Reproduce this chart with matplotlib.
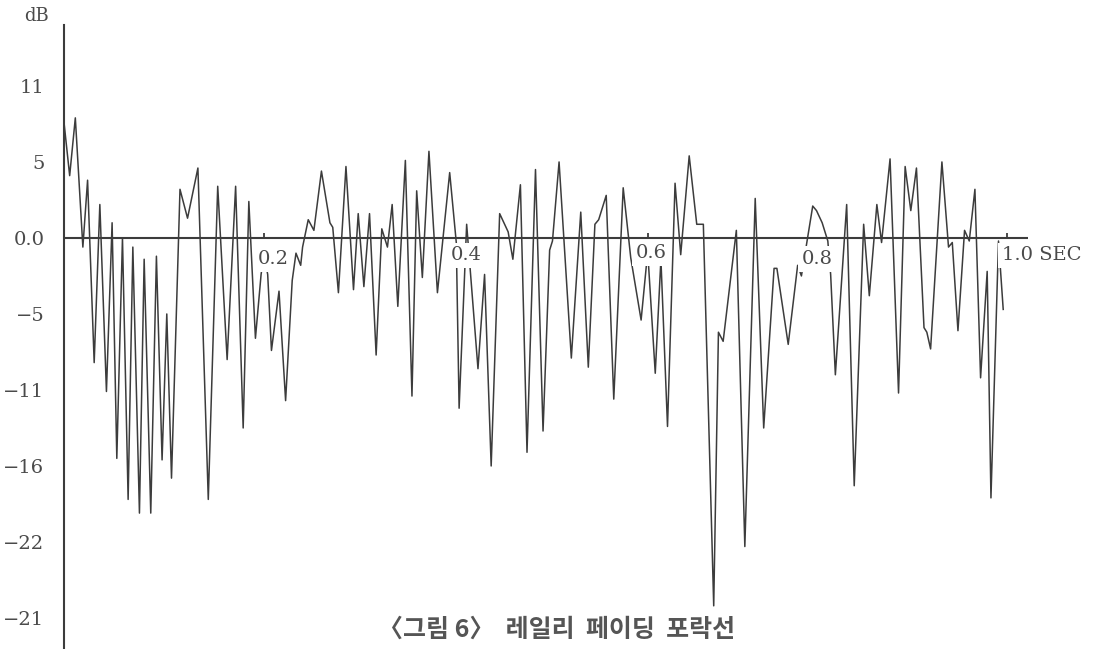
#!/usr/bin/env python3

import matplotlib
matplotlib.use("Agg")
import matplotlib.pyplot as plt

# envelope samples: time [s], level on the dB grid (one grid step = 5 units)
t = [0.000, 0.006, 0.012, 0.020, 0.025, 0.032, 0.038, 0.045, 0.051, 0.056,
     0.062, 0.068, 0.073, 0.080, 0.085, 0.092, 0.098, 0.104, 0.109, 0.114,
     0.123, 0.131, 0.142, 0.153, 0.163, 0.173, 0.182, 0.190, 0.196, 0.203,
     0.209, 0.212, 0.216, 0.220, 0.228, 0.235, 0.242, 0.246, 0.251, 0.253,
     0.259, 0.265, 0.273, 0.282, 0.285, 0.291, 0.299, 0.307, 0.312, 0.318,
     0.324, 0.331, 0.337, 0.343, 0.348, 0.354, 0.362, 0.369, 0.374, 0.380,
     0.387, 0.396, 0.409, 0.416, 0.419, 0.427, 0.439, 0.446, 0.453, 0.462,
     0.471, 0.476, 0.484, 0.491, 0.500, 0.508, 0.515, 0.518, 0.525, 0.538,
     0.548, 0.556, 0.563, 0.567, 0.575, 0.583, 0.593, 0.601, 0.612, 0.619,
     0.627, 0.633, 0.640, 0.648, 0.654, 0.663, 0.671, 0.678, 0.689, 0.694,
     0.699, 0.713, 0.722, 0.733, 0.742, 0.753, 0.756, 0.768, 0.778, 0.782,
     0.788, 0.794, 0.798, 0.804, 0.810, 0.813, 0.818, 0.830, 0.838, 0.848,
     0.854, 0.862, 0.867, 0.876, 0.885, 0.892, 0.898, 0.904, 0.912, 0.915,
     0.919, 0.931, 0.938, 0.942, 0.948, 0.955, 0.960, 0.966, 0.972, 0.979,
     0.983, 0.991, 0.996]
level = [7.6, 4.1, 7.9, -0.6, 3.8, -8.2, 2.2, -10.1, 1.0, -14.5,
         0.0, -17.2, -0.6, -18.1, -1.4, -18.1, -1.2, -14.6, -5.0, -15.8,
         3.2, 1.3, 4.6, -17.2, 3.4, -8.0, 3.4, -12.5, 2.4, -6.6,
         -2.4, -1.1, -2.4, -7.4, -3.5, -10.7, -2.8, -1.0, -1.8, -0.6,
         1.2, 0.5, 4.4, 1.0, 0.7, -3.6, 4.7, -3.4, 1.6, -3.2,
         1.6, -7.7, 0.6, -0.6, 2.2, -4.5, 5.1, -10.4, 3.1, -2.6,
         5.7, -3.6, 4.3, -0.3, -11.2, 0.9, -8.6, -2.4, -15.0, 1.6,
         0.4, -1.4, 3.5, -14.1, 4.5, -12.7, -0.8, -0.2, 5.0, -7.9,
         1.7, -8.5, 0.9, 1.2, 2.8, -10.6, 3.3, -1.3, -5.4, -0.9,
         -8.9, -1.4, -12.4, 3.6, -1.1, 5.4, 0.9, 0.9, -24.2, -6.2,
         -6.8, 0.5, -20.3, 2.6, -12.5, -2.0, -2.0, -7.0, -1.8, -2.5,
         -0.2, 2.1, 1.8, 1.0, -0.2, -2.4, -9.0, 2.2, -16.3, 0.9,
         -3.8, 2.2, -0.3, 5.2, -10.2, 4.7, 1.8, 4.6, -5.9, -6.2,
         -7.3, 5.0, -0.6, -0.3, -6.1, 0.5, -0.2, 3.2, -9.2, -2.2,
         -17.1, -0.2, -4.7]

y_ticks = [10, 5, 0, -5, -10, -15, -20, -25]
y_labels = ["11", "5", "0.0", "\u22125", "\u221211", "\u221216", "\u221222", "\u221221"]

# time marks along the 0 dB line and where their labels sit
x_marks = [0.212, 0.619, 1.000]
x_labels = ["0.2", "0.4", "0.6", "0.8", "1.0 SEC"]
x_label_pos = [(0.2216, -1.38), (0.4263, -1.15), (0.6224, -1.02),
               (0.7985, -1.38), (0.9950, -1.15)]

ink = "#3c3c3c"
serif = "DejaVu Serif"

fig = plt.figure(figsize=(10.96, 6.49), dpi=100)
ax = fig.add_axes([0.0584, 0.0, 0.9416, 0.9615])
ax.set_xlim(0, 1.0944)
ax.set_ylim(-27.04, 14.01)

ax.plot(t, level, color=ink, lw=1.1, zorder=2)

# baseline at 0 dB with small time marks
ax.plot([0, 1.022], [0, 0], color=ink, lw=1.5, zorder=4, solid_capstyle="butt")
ax.vlines(x_marks, 0, 0.35, color=ink, lw=1.3, zorder=4)

for lab, (xp, yp) in zip(x_labels, x_label_pos):
    ax.text(xp, yp, lab, ha="left" if "SEC" in lab else "center", va="center",
            family=serif, fontsize=14, color="#4a4a4a", zorder=3,
            bbox=dict(boxstyle="square,pad=0.2", fc="white", ec="none"))

for side in ["top", "right", "bottom"]:
    ax.spines[side].set_visible(False)
ax.spines["left"].set_color(ink)
ax.spines["left"].set_linewidth(1.5)

ax.set_xticks([])
ax.set_yticks(y_ticks)
ax.set_yticklabels(y_labels, family=serif, fontsize=14, color="#4a4a4a")
ax.tick_params(axis="y", length=0, pad=14)

fig.text(49 / 1096, 1 - 16 / 649, "dB", ha="right", va="center",
         family=serif, fontsize=13, color="#4a4a4a")

fig.text(0.508, 1 - 630 / 649, "\u3008그림 6\u3009  레일리  페이딩  포락선",
         ha="center", va="center", family=["Noto Sans CJK KR", "DejaVu Sans"],
         fontsize=18, fontweight="bold", color="#555555")

fig.savefig("out.png", dpi=100, facecolor="white")
